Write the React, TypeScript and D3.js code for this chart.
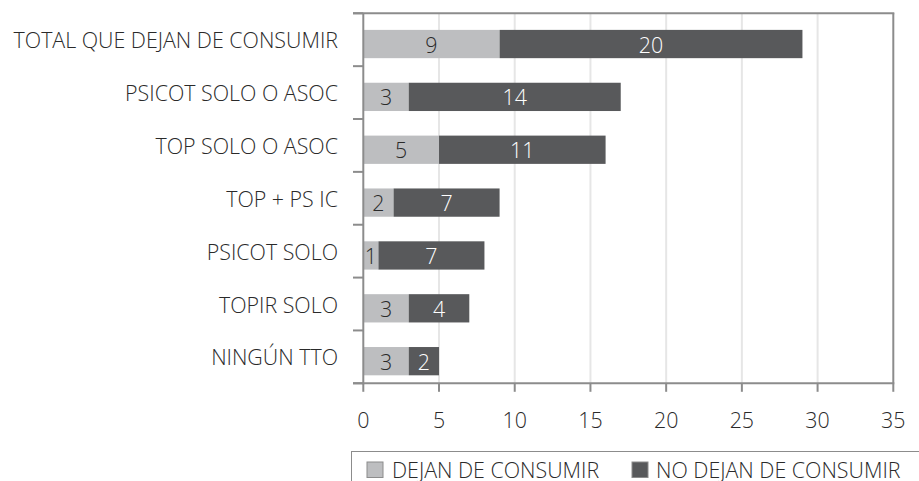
import React from "react";
import * as d3 from "d3";

const categories = [
  "TOTAL QUE DEJAN DE CONSUMIR",
  "PSICOT SOLO O ASOC",
  "TOP SOLO O ASOC",
  "TOP + PS IC",
  "PSICOT SOLO",
  "TOPIR SOLO",
  "NINGÚN TTO",
];
const dejan = [9, 3, 5, 2, 1, 3, 3];
const noDejan = [20, 14, 11, 7, 7, 4, 2];
const xTicks = [0, 5, 10, 15, 20, 25, 30, 35];
const seriesNames = ["DEJAN DE CONSUMIR", "NO DEJAN DE CONSUMIR"];

const W = 919;
const H = 481;
const left = 363.3;
const right = 893.3;
const top = 13.3;
const bottom = 383.3;
const LIGHT = "#BDBEC0";
const DARK = "#58595B";
const AXIS = "#8C8C8C";
const GRID = "#E6E6E6";
const FONT = "'Open Sans', sans-serif";
const FS = 21.4;
const TEXT = "#2A2A2A";

export default function App() {
  const x = d3.scaleLinear().domain([0, 35]).range([left, right]);
  const y = d3.scaleBand<string>().domain(categories).range([top, bottom]).paddingInner(0).paddingOuter(0);
  const bw = y.bandwidth();
  const barH = bw * 0.535;
  const barOff = 4.3;
  const boundaries = d3.range(categories.length + 1).map((i) => top + i * bw);

  return (
    <svg width={W} height={H} style={{ position: "absolute", left: 0, top: 0, background: "#fff" }} fontFamily={FONT} fontWeight={300}>
      {/* gridlines */}
      {xTicks.slice(1, -1).map((t) => (
        <line key={"g" + t} x1={x(t)} x2={x(t)} y1={top} y2={bottom} stroke={GRID} strokeWidth={2} />
      ))}
      {/* bars */}
      {categories.map((c, i) => {
        const yc = (y(c) as number) + bw / 2 + barOff;
        const y0 = yc - barH / 2;
        const a = dejan[i];
        const b = noDejan[i];
        return (
          <g key={c}>
            <rect x={x(0)} y={y0} width={x(a) - x(0)} height={barH} fill={LIGHT} />
            <rect x={x(a)} y={y0} width={x(a + b) - x(a)} height={barH} fill={DARK} />
            <text x={(x(0) + x(a)) / 2} y={yc} textAnchor="middle" dominantBaseline="central" fontSize={FS} fill={TEXT}>
              {a}
            </text>
            <text x={(x(a) + x(a + b)) / 2} y={yc} textAnchor="middle" dominantBaseline="central" fontSize={FS} fill="#FFFFFF">
              {b}
            </text>
            <text x={338} y={(y(c) as number) + bw / 2} textAnchor="end" dominantBaseline="central" fontSize={FS} fill={TEXT}>
              {c}
            </text>
          </g>
        );
      })}
      {/* frame */}
      <line x1={353} x2={right + 1} y1={top} y2={top} stroke={AXIS} strokeWidth={2} />
      <line x1={right} x2={right} y1={top} y2={bottom} stroke={AXIS} strokeWidth={2} />
      <line x1={left} x2={left} y1={top} y2={bottom + 1} stroke={AXIS} strokeWidth={2} />
      <line x1={353} x2={right + 1} y1={bottom} y2={bottom} stroke={AXIS} strokeWidth={2} />
      {/* y ticks */}
      {boundaries.map((b, i) => (
        <line key={"yt" + i} x1={353} x2={left} y1={b} y2={b} stroke={AXIS} strokeWidth={2} />
      ))}
      {/* x ticks */}
      {xTicks.map((t) => (
        <g key={"xt" + t}>
          <line x1={x(t)} x2={x(t)} y1={bottom} y2={bottom + 8.5} stroke={AXIS} strokeWidth={2} />
          <text x={x(t)} y={419} textAnchor="middle" dominantBaseline="central" fontSize={FS} fill={TEXT}>
            {t}
          </text>
        </g>
      ))}
      {/* legend */}
      <rect x={351.5} y={451.5} width={620} height={100} fill="none" stroke={AXIS} strokeWidth={1} />
      <rect x={367} y={462} width={16} height={15.5} fill={LIGHT} stroke={AXIS} strokeWidth={1} />
      <text x={392} y={469} dominantBaseline="central" fontSize={FS} fill={TEXT}>
        {seriesNames[0]}
      </text>
      <rect x={632} y={462} width={16} height={15.5} fill={DARK} stroke={AXIS} strokeWidth={1} />
      <text x={656} y={469} dominantBaseline="central" fontSize={FS} fill={TEXT}>
        {seriesNames[1]}
      </text>
    </svg>
  );
}
